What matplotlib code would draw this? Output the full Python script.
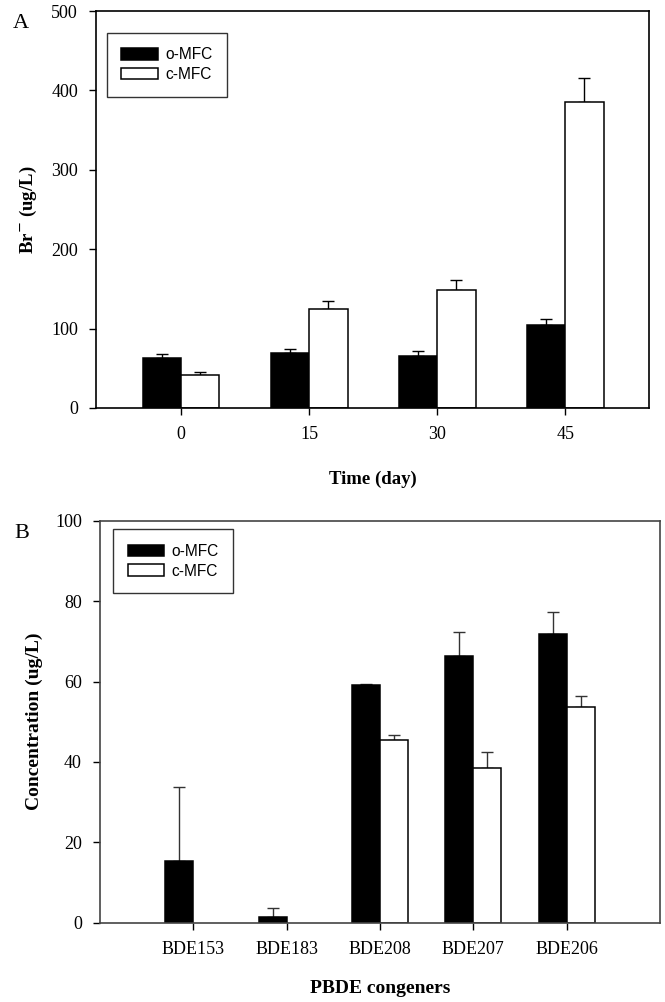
import matplotlib
matplotlib.use("Agg")
import matplotlib.pyplot as plt
import numpy as np

# ---- Data ----
days = ["0", "15", "30", "45"]
br_o = [62.6, 69.7, 65.9, 104.1]
br_o_err = [5.0, 5.0, 5.5, 8.4]
br_c = [41.6, 124.3, 148.6, 385.0]
br_c_err = [3.4, 10.5, 12.6, 30.6]

congeners = ["BDE153", "BDE183", "BDE208", "BDE207", "BDE206"]
pb_o = [15.4, 1.4, 59.2, 66.3, 71.7]
pb_o_err = [18.3, 2.2, 0.3, 6.0, 5.6]
pb_c = [0.0, 0.0, 45.4, 38.4, 53.7]
pb_c_err = [0.0, 0.0, 1.4, 4.0, 2.8]

serif = ["Liberation Serif", "DejaVu Serif"]
sans = ["Liberation Sans", "DejaVu Sans"]

fig = plt.figure(figsize=(6.65, 10.02), dpi=100)
W, H = 665, 1002

def add_ax(l, t, r, b):
    return fig.add_axes([l / W, 1 - b / H, (r - l) / W, (b - t) / H])

axA = add_ax(96, 11, 649.3, 408)
axB = add_ax(100, 520.7, 660, 922.7)

bw = 0.30
lw = 1.1

def draw(ax, labels, o, oe, c, ce, ylim, yticks, spine_col, err_col, tfs, leg_anchor):
    x = np.arange(len(labels))
    ax.bar(x - bw / 2, o, bw, color="black", edgecolor="black", linewidth=lw, label="o-MFC", zorder=2)
    cmask = np.array(c) > 0
    ax.bar(x[cmask] + bw / 2, np.array(c)[cmask], bw, color="white", edgecolor="black",
           linewidth=lw, label="c-MFC", zorder=2)
    ax.errorbar(x - bw / 2, o, yerr=[np.zeros(len(o)), oe], fmt="none", ecolor=err_col,
                elinewidth=1.0, capsize=4.5, capthick=1.0, zorder=1)
    ax.errorbar(x[cmask] + bw / 2, np.array(c)[cmask],
                yerr=[np.zeros(cmask.sum()), np.array(ce)[cmask]], fmt="none",
                ecolor=err_col, elinewidth=1.0, capsize=4.5, capthick=1.0, zorder=1)
    ax.set_xticks(x)
    ax.set_xticklabels(labels, fontfamily=serif, fontsize=tfs)
    ax.set_ylim(*ylim)
    ax.set_yticks(yticks)
    ax.set_yticklabels([str(v) for v in yticks], fontfamily=serif, fontsize=tfs)
    ax.tick_params(direction="out", length=5, width=1, pad=8, colors="black")
    for s in ax.spines.values():
        s.set_color(spine_col)
        s.set_linewidth(1.2)
    leg = ax.legend(loc="upper left", bbox_to_anchor=leg_anchor, borderaxespad=0,
                    prop={"family": sans, "size": 11.2},
                    frameon=True, fancybox=False, edgecolor="black",
                    handlelength=2.35, handleheight=0.75, borderpad=0.95,
                    labelspacing=0.3, handletextpad=0.45)
    leg.get_frame().set_linewidth(1.0)
    return ax

draw(axA, days, br_o, br_o_err, br_c, br_c_err, (0, 500), [0, 100, 200, 300, 400, 500],
     "black", "black", 13, (0.0193, 0.9453))
axA.set_xlim(-0.664, 3.656)
axA.set_xlabel("Time (day)", fontfamily=serif, fontsize=13.5, fontweight="bold", labelpad=20)
axA.set_ylabel("Br$^{-}$ (ug/L)", fontfamily=serif, fontsize=13.5, fontweight="bold", labelpad=9)

draw(axB, congeners, pb_o, pb_o_err, pb_c, pb_c_err, (0, 100), [0, 20, 40, 60, 80, 100],
     "#444444", "#333333", 13, (0.0232, 0.979))
axB.set_xlim(-1.0, 5.0)
axB.set_xlabel("PBDE congeners", fontfamily=serif, fontsize=14, fontweight="bold", labelpad=16)
axB.set_ylabel("Concentration (ug/L)", fontfamily=serif, fontsize=14, fontweight="bold", labelpad=9)

fig.text(13 / W, 1 - 24 / H, "A", fontfamily=serif, fontsize=16, ha="left", va="center")
fig.text(14 / W, 1 - 533 / H, "B", fontfamily=serif, fontsize=16, ha="left", va="center")

fig.savefig("out.png", dpi=100)
